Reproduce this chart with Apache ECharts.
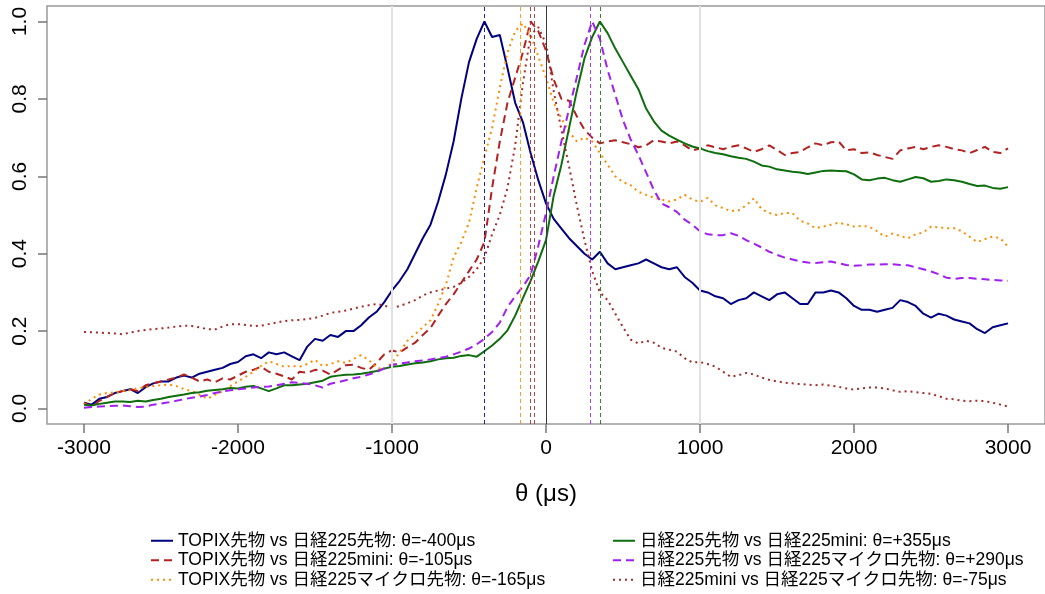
<!DOCTYPE html>
<html>
<head>
<meta charset="utf-8">
<script src="https://cdn.jsdelivr.net/npm/echarts@6/dist/echarts.min.js"></script>
<style>
  html, body { margin: 0; padding: 0; background: #fff; }
  #chart { width: 1045px; height: 594px; }
</style>
</head>
<body>
<div id="chart"></div>
<script>
// Lag θ (µs), shared by every pair
const theta = [
  -3000,-2950,-2900,-2850,-2800,-2750,-2700,-2650,-2600,-2550,
  -2500,-2450,-2400,-2350,-2300,-2250,-2200,-2150,-2100,-2050,
  -2000,-1950,-1900,-1850,-1800,-1750,-1700,-1650,-1600,-1550,
  -1500,-1450,-1400,-1350,-1300,-1250,-1200,-1150,-1100,-1050,
  -1000,-950,-900,-850,-800,-750,-700,-650,-600,-550,
  -500,-450,-400,-350,-300,-250,-200,-150,-100,-50,
  0,50,100,150,200,250,300,350,400,450,
  500,550,600,650,700,750,800,850,900,950,
  1000,1050,1100,1150,1200,1250,1300,1350,1400,1450,
  1500,1550,1600,1650,1700,1750,1800,1850,1900,1950,
  2000,2050,2100,2150,2200,2250,2300,2350,2400,2450,
  2500,2550,2600,2650,2700,2750,2800,2850,2900,2950,
  3000
];

// Normalised lead-lag correlation for each pair
const topixVsN225 = [
  0.015,0.010,0.025,0.030,0.040,0.045,0.050,0.040,0.055,0.065,
  0.070,0.070,0.080,0.085,0.080,0.090,0.095,0.100,0.105,0.115,
  0.120,0.135,0.140,0.130,0.145,0.140,0.145,0.135,0.125,0.160,
  0.180,0.175,0.190,0.185,0.200,0.200,0.215,0.235,0.250,0.275,
  0.305,0.330,0.360,0.400,0.440,0.475,0.535,0.605,0.690,0.800,
  0.895,0.955,1.000,0.960,0.965,0.880,0.790,0.740,0.660,0.590,
  0.530,0.490,0.465,0.440,0.420,0.400,0.385,0.405,0.375,0.360,
  0.365,0.370,0.375,0.385,0.375,0.365,0.360,0.365,0.340,0.325,
  0.305,0.300,0.290,0.285,0.270,0.280,0.285,0.300,0.290,0.280,
  0.295,0.300,0.285,0.270,0.270,0.300,0.300,0.305,0.300,0.285,
  0.265,0.255,0.255,0.250,0.255,0.260,0.280,0.275,0.265,0.245,
  0.235,0.245,0.240,0.230,0.225,0.220,0.205,0.195,0.210,0.215,
  0.220
];
const topixVsMini = [
  0.015,0.005,0.020,0.030,0.040,0.045,0.050,0.045,0.060,0.065,
  0.070,0.075,0.080,0.088,0.080,0.070,0.075,0.068,0.078,0.075,
  0.085,0.095,0.100,0.108,0.095,0.090,0.083,0.075,0.095,0.092,
  0.100,0.098,0.088,0.100,0.112,0.113,0.105,0.100,0.118,0.140,
  0.150,0.145,0.158,0.170,0.190,0.208,0.240,0.270,0.295,0.325,
  0.355,0.385,0.430,0.570,0.690,0.790,0.855,0.920,1.000,0.975,
  0.925,0.850,0.800,0.795,0.755,0.720,0.700,0.685,0.690,0.693,
  0.688,0.683,0.675,0.680,0.693,0.690,0.685,0.690,0.680,0.667,
  0.672,0.680,0.675,0.670,0.676,0.680,0.672,0.663,0.670,0.680,
  0.668,0.655,0.660,0.663,0.675,0.685,0.680,0.688,0.690,0.667,
  0.670,0.660,0.662,0.655,0.650,0.645,0.667,0.672,0.676,0.670,
  0.676,0.680,0.676,0.670,0.667,0.660,0.668,0.676,0.663,0.660,
  0.672
];
const topixVsMicro = [
  0.010,0.025,0.036,0.040,0.042,0.045,0.048,0.052,0.055,0.058,
  0.060,0.062,0.058,0.050,0.045,0.036,0.025,0.035,0.045,0.058,
  0.070,0.082,0.095,0.110,0.122,0.115,0.108,0.110,0.108,0.115,
  0.126,0.110,0.115,0.122,0.118,0.128,0.138,0.125,0.105,0.102,
  0.118,0.145,0.175,0.192,0.210,0.228,0.270,0.320,0.390,0.430,
  0.480,0.570,0.650,0.725,0.830,0.920,0.975,0.995,0.965,0.910,
  0.855,0.790,0.750,0.715,0.690,0.700,0.690,0.660,0.630,0.600,
  0.585,0.577,0.560,0.552,0.545,0.540,0.535,0.540,0.552,0.540,
  0.534,0.544,0.525,0.518,0.510,0.512,0.525,0.543,0.515,0.505,
  0.500,0.505,0.505,0.485,0.478,0.466,0.470,0.475,0.480,0.476,
  0.470,0.472,0.470,0.458,0.444,0.452,0.446,0.440,0.450,0.455,
  0.470,0.468,0.466,0.466,0.458,0.444,0.430,0.438,0.444,0.440,
  0.418
];
const n225VsMini = [
  0.010,0.008,0.012,0.015,0.018,0.018,0.017,0.020,0.018,0.022,
  0.025,0.030,0.033,0.036,0.040,0.042,0.046,0.048,0.050,0.053,
  0.052,0.056,0.058,0.052,0.045,0.052,0.060,0.060,0.062,0.064,
  0.068,0.072,0.082,0.085,0.087,0.088,0.090,0.093,0.097,0.103,
  0.108,0.110,0.114,0.117,0.119,0.122,0.127,0.130,0.131,0.136,
  0.138,0.134,0.148,0.163,0.180,0.202,0.240,0.285,0.330,0.380,
  0.435,0.550,0.630,0.725,0.820,0.905,0.960,1.000,0.970,0.930,
  0.895,0.860,0.825,0.775,0.742,0.718,0.705,0.695,0.685,0.677,
  0.672,0.665,0.660,0.657,0.652,0.648,0.645,0.638,0.628,0.625,
  0.618,0.615,0.612,0.610,0.606,0.610,0.614,0.615,0.614,0.613,
  0.605,0.592,0.590,0.594,0.596,0.590,0.586,0.592,0.598,0.595,
  0.586,0.588,0.592,0.590,0.586,0.580,0.575,0.576,0.570,0.568,
  0.572
];
const n225VsMicro = [
  0.002,0.004,0.005,0.006,0.007,0.008,0.006,0.004,0.005,0.010,
  0.013,0.016,0.020,0.024,0.028,0.031,0.035,0.040,0.044,0.047,
  0.050,0.052,0.054,0.056,0.057,0.060,0.064,0.068,0.066,0.064,
  0.060,0.054,0.064,0.068,0.073,0.078,0.082,0.088,0.094,0.104,
  0.113,0.116,0.119,0.122,0.124,0.127,0.130,0.134,0.140,0.147,
  0.155,0.166,0.180,0.198,0.222,0.262,0.290,0.315,0.345,0.420,
  0.505,0.600,0.690,0.775,0.855,0.940,1.000,0.955,0.875,0.810,
  0.745,0.695,0.655,0.610,0.565,0.530,0.520,0.508,0.488,0.475,
  0.458,0.450,0.448,0.448,0.453,0.446,0.435,0.426,0.416,0.405,
  0.397,0.390,0.385,0.380,0.377,0.376,0.378,0.380,0.375,0.371,
  0.369,0.370,0.372,0.372,0.373,0.373,0.371,0.370,0.365,0.360,
  0.354,0.347,0.338,0.335,0.337,0.337,0.335,0.334,0.332,0.331,
  0.330
];
const miniVsMicro = [
  0.198,0.197,0.196,0.195,0.194,0.192,0.196,0.200,0.203,0.205,
  0.207,0.209,0.212,0.214,0.213,0.210,0.205,0.204,0.212,0.218,
  0.218,0.216,0.213,0.214,0.218,0.222,0.226,0.228,0.229,0.231,
  0.234,0.240,0.247,0.250,0.253,0.258,0.263,0.267,0.270,0.266,
  0.260,0.265,0.272,0.280,0.292,0.300,0.305,0.310,0.314,0.325,
  0.340,0.360,0.390,0.450,0.500,0.570,0.680,0.840,0.965,0.985,
  0.943,0.820,0.720,0.625,0.525,0.435,0.355,0.300,0.280,0.245,
  0.210,0.178,0.168,0.175,0.170,0.157,0.152,0.147,0.130,0.119,
  0.120,0.115,0.108,0.095,0.082,0.086,0.092,0.088,0.080,0.074,
  0.070,0.067,0.065,0.063,0.062,0.060,0.062,0.059,0.056,0.052,
  0.049,0.052,0.054,0.054,0.052,0.047,0.043,0.045,0.042,0.040,
  0.038,0.032,0.025,0.024,0.020,0.019,0.020,0.019,0.015,0.010,
  0.005
];

// Lag at which each pair peaks (µs)
const peakLags = [-400, -105, -165, 355, 290, -75];

const seriesNames = [
  'TOPIX先物 vs 日経225先物: θ=-400μs',
  'TOPIX先物 vs 日経225mini: θ=-105μs',
  'TOPIX先物 vs 日経225マイクロ先物: θ=-165μs',
  '日経225先物 vs 日経225mini: θ=+355μs',
  '日経225先物 vs 日経225マイクロ先物: θ=+290μs',
  '日経225mini vs 日経225マイクロ先物: θ=-75μs'
];
const seriesValues = [topixVsN225, topixVsMini, topixVsMicro, n225VsMini, n225VsMicro, miniVsMicro];
const seriesColors = ['#000080', '#B22222', '#FF8C00', '#0E6E0E', '#A020F0', '#A52A2A'];
const seriesDash = ['solid', [8, 5], [2, 4], 'solid', [8, 5], [2, 4]];

const xTicks = [-3000, -2000, -1000, 0, 1000, 2000, 3000];
const yTicks = [0, 0.2, 0.4, 0.6, 0.8, 1.0];

const FONT = '"Liberation Sans", Arial, "Noto Sans CJK JP", sans-serif';

const chart = echarts.init(document.getElementById('chart'), null, { renderer: 'canvas' });

const series = [];

// Reference verticals: light lines at ±1000 and a dark line at zero
series.push({
  name: 'refs',
  type: 'line',
  data: [],
  z: 1,
  silent: true,
  markLine: {
    silent: true,
    symbol: ['none', 'none'],
    label: { show: false },
    emphasis: { disabled: true },
    animation: false,
    data: [
      { xAxis: -1000, lineStyle: { color: '#e2e2e2', width: 2, type: 'solid' } },
      { xAxis: 1000, lineStyle: { color: '#e2e2e2', width: 2, type: 'solid' } },
      { xAxis: 0, lineStyle: { color: '#3a3a3a', width: 1, type: 'solid' } }
    ]
  }
});

seriesNames.forEach((name, i) => {
  series.push({
    name: name,
    type: 'line',
    data: theta.map((t, k) => [t, seriesValues[i][k]]),
    symbol: 'none',
    showSymbol: false,
    z: 3,
    lineStyle: { color: seriesColors[i], width: 2, type: seriesDash[i] },
    itemStyle: { color: seriesColors[i] },
    emphasis: { disabled: true },
    markLine: {
      silent: true,
      symbol: ['none', 'none'],
      label: { show: false },
      emphasis: { disabled: true },
      animation: false,
      lineStyle: { color: seriesColors[i], width: 1, type: [4, 3], opacity: 0.85 },
      data: [{ xAxis: peakLags[i] }]
    }
  });
});

const legendCommon = {
  orient: 'vertical',
  top: 532,
  height: 62,
  padding: 0,
  itemWidth: 22,
  itemHeight: 14,
  itemGap: 2,
  selectedMode: false,
  itemStyle: { opacity: 0 },
  textStyle: { fontFamily: FONT, fontSize: 17.5, lineHeight: 14, color: '#000' }
};

chart.setOption({
  animation: false,
  backgroundColor: '#fff',
  grid: {
    left: 47, right: -4, top: 6, bottom: 170,
    show: true, borderColor: '#9a9a9a', borderWidth: 1.5, backgroundColor: 'transparent'
  },
  legend: [
    Object.assign({}, legendCommon, { left: 150, data: seriesNames.slice(0, 3) }),
    Object.assign({}, legendCommon, { left: 612, data: seriesNames.slice(3) })
  ],
  xAxis: {
    type: 'value',
    min: -3240, max: 3240,
    name: 'θ (μs)',
    nameLocation: 'middle',
    nameGap: 58,
    nameTextStyle: { fontFamily: FONT, fontSize: 24, color: '#000' },
    axisLine: { show: false, onZero: false },
    splitLine: { show: false },
    axisTick: { show: true, length: 9, customValues: xTicks, lineStyle: { color: '#777', width: 1.5 } },
    axisLabel: {
      customValues: xTicks, fontFamily: FONT, fontSize: 21, color: '#000', margin: 14,
      formatter: v => String(v)
    }
  },
  yAxis: {
    type: 'value',
    min: -0.04, max: 1.04,
    axisLine: { show: false, onZero: false },
    splitLine: { show: false },
    axisTick: { show: true, length: 9, customValues: yTicks, lineStyle: { color: '#777', width: 1.5 } },
    axisLabel: {
      customValues: yTicks, rotate: 90, fontFamily: FONT, fontSize: 21, color: '#000', margin: 16,
      formatter: v => v.toFixed(1)
    }
  },
  series: series
});
</script>
</body>
</html>
